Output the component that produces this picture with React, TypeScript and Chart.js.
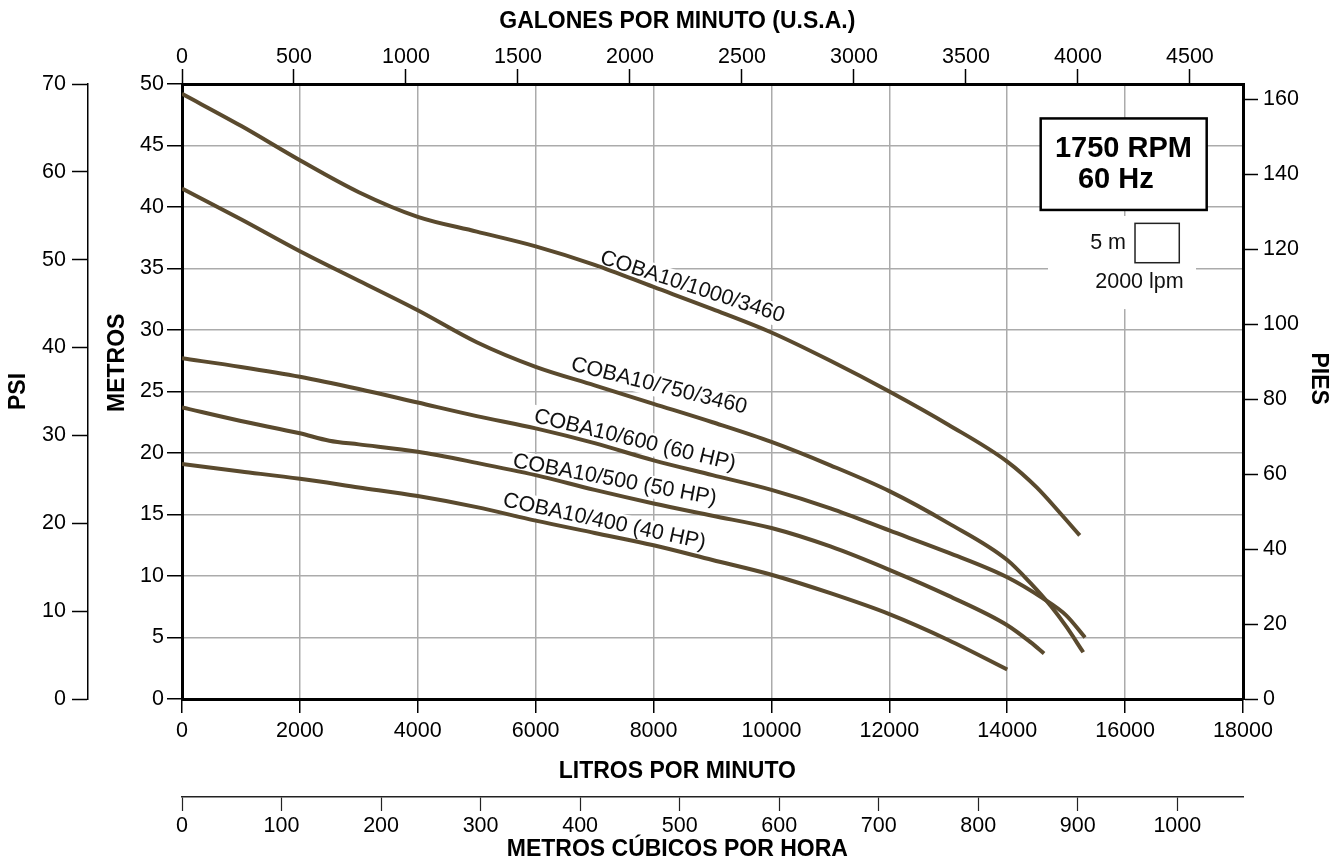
import React, { useEffect, useRef } from "react";
import { Chart, registerables } from "chart.js";

Chart.register(...registerables);

// ---------------- data ----------------
const SERIES_NAMES = [
  "COBA10/1000/3460",
  "COBA10/750/3460",
  "COBA10/600 (60 HP)",
  "COBA10/500 (50 HP)",
  "COBA10/400 (40 HP)",
];

const FLOW_1000 = [0, 1000, 2000, 3000, 4000, 5000, 6000, 7000, 8000, 9000, 10000, 11000, 12000, 13000, 14000, 14500, 14900, 15230];
const HEAD_1000 = [49.2, 46.6, 43.8, 41.2, 39.2, 38.0, 36.8, 35.3, 33.5, 31.7, 29.8, 27.5, 25.0, 22.3, 19.3, 17.2, 15.1, 13.3];

const FLOW_750 = [0, 1000, 2000, 3000, 4000, 5000, 6000, 7000, 8000, 9000, 10000, 11000, 12000, 13000, 14000, 14400, 14750, 15000, 15290];
const HEAD_750 = [41.5, 39.0, 36.4, 34.0, 31.6, 29.0, 27.0, 25.5, 24.0, 22.5, 20.9, 19.0, 16.9, 14.3, 11.3, 9.4, 7.5, 5.9, 3.8];

const FLOW_600 = [0, 1000, 2000, 3000, 4000, 5000, 6000, 7000, 8000, 9000, 10000, 11000, 12000, 13000, 14000, 14600, 15000, 15320];
const HEAD_600 = [27.7, 27.0, 26.2, 25.2, 24.1, 23.0, 22.0, 20.8, 19.4, 18.2, 17.0, 15.5, 13.7, 11.9, 9.9, 8.2, 6.8, 5.0];

const FLOW_500 = [0, 1000, 2000, 2500, 3000, 4000, 5000, 6000, 7000, 8000, 9000, 10000, 11000, 12000, 13000, 14000, 14400, 14625];
const HEAD_500 = [23.7, 22.6, 21.6, 21.0, 20.7, 20.1, 19.2, 18.2, 17.0, 15.9, 14.9, 13.9, 12.4, 10.5, 8.4, 6.0, 4.6, 3.7];

const FLOW_400 = [0, 1000, 2000, 3000, 4000, 5000, 6000, 7000, 8000, 9000, 10000, 11000, 12000, 13000, 14000];
const HEAD_400 = [19.1, 18.5, 17.9, 17.2, 16.5, 15.6, 14.5, 13.5, 12.5, 11.3, 10.1, 8.6, 6.9, 4.8, 2.4];

const FLOWS = [FLOW_1000, FLOW_750, FLOW_600, FLOW_500, FLOW_400];
const HEADS = [HEAD_1000, HEAD_750, HEAD_600, HEAD_500, HEAD_400];

// tick labels
const LPM_TICKS = [0, 2000, 4000, 6000, 8000, 10000, 12000, 14000, 16000, 18000];
const M_TICKS = [0, 5, 10, 15, 20, 25, 30, 35, 40, 45, 50];
const GPM_TICKS = [0, 500, 1000, 1500, 2000, 2500, 3000, 3500, 4000, 4500];
const M3H_TICKS = [0, 100, 200, 300, 400, 500, 600, 700, 800, 900, 1000];
const PSI_TICKS = [0, 10, 20, 30, 40, 50, 60, 70];
const FT_TICKS = [0, 20, 40, 60, 80, 100, 120, 140, 160];

// axis ranges
const LPM_MAX = 18000;
const M_MAX = 50;
const GPM_MAX = 4737;
const M3H_MAX = 1066;
const PSI_MAX = 70;
const FT_MAX = 164.04;

// texts
const TITLE_LPM = "LITROS POR MINUTO";
const TITLE_M3H = "METROS CÚBICOS POR HORA";
const TITLE_GPM = "GALONES POR MINUTO (U.S.A.)";
const TITLE_M = "METROS";
const TITLE_PSI = "PSI";
const TITLE_FT = "PIES";
const BOX_LINE1 = "1750 RPM";
const BOX_LINE2 = "60 Hz";
const SCALE_V = "5 m";
const SCALE_H = "2000 lpm";

// ---------------- layout / style ----------------
const W = 1333;
const H = 863;
const SANS = "'Liberation Sans', Arial, sans-serif";
const CURVE_COLOR = "#5a4a2e";
const GRID_COLOR = "#ababab";
const INK = "#000";
const TICK_SIZE = 21.5;

const tickFont = { family: SANS, size: TICK_SIZE, lineHeight: 1 };
const titleFont = { family: SANS, size: 23, weight: "bold" as const, lineHeight: 1 };

// label anchors (text baseline start, data coordinates) and rotation
const CURVE_LABELS = [
  { text: SERIES_NAMES[0], flow: 7074, head: 35.45, angle: 18 },
  { text: SERIES_NAMES[1], flow: 6582, head: 26.75, angle: 14 },
  { text: SERIES_NAMES[2], flow: 5955, head: 22.52, angle: 13.5 },
  { text: SERIES_NAMES[3], flow: 5598, head: 18.86, angle: 10.5 },
  { text: SERIES_NAMES[4], flow: 5429, head: 15.69, angle: 12 },
];
const LABEL_SIZE = 21.5;

const pad = (n: number) => " ".repeat(n);
const setTicks = (values: number[]) => (s: any) => {
  s.ticks = values.map((v) => ({ value: v }));
};
const plain = (v: any) => String(v);

const annotationPlugin = {
  id: "pumpAnnotations",
  beforeDatasetsDraw(chart: any) {
    const { ctx } = chart;
    const x = chart.scales.x;
    const y = chart.scales.y;
    ctx.save();
    // white area behind the scale legend
    const mx0 = x.getPixelForValue(14692);
    const mx1 = x.getPixelForValue(17203);
    const my0 = y.getPixelForValue(39.27);
    const my1 = y.getPixelForValue(31.7);
    ctx.fillStyle = "#fff";
    ctx.fillRect(mx0, my0, mx1 - mx0, my1 - my0);

    // curve labels
    CURVE_LABELS.forEach((l) => {
      const px = x.getPixelForValue(l.flow);
      const py = y.getPixelForValue(l.head);
      ctx.save();
      ctx.translate(px, py);
      ctx.rotate((l.angle * Math.PI) / 180);
      ctx.font = `${LABEL_SIZE}px ${SANS}`;
      const w = ctx.measureText(l.text).width;
      ctx.fillStyle = "#fff";
      ctx.fillRect(-2, -LABEL_SIZE * 0.8, w + 4, LABEL_SIZE * 1.05);
      ctx.fillStyle = "#111";
      ctx.textAlign = "left";
      ctx.textBaseline = "alphabetic";
      ctx.fillText(l.text, 0, 0);
      ctx.restore();
    });

    // scale legend: "5 m" [square] "2000 lpm"
    ctx.font = `${TICK_SIZE}px ${SANS}`;
    ctx.fillStyle = "#111";
    ctx.textBaseline = "middle";
    ctx.textAlign = "right";
    ctx.fillText(SCALE_V, x.getPixelForValue(16015), y.getPixelForValue(37.1));
    ctx.textAlign = "center";
    ctx.fillText(SCALE_H, x.getPixelForValue(16243), y.getPixelForValue(33.93));
    const sx0 = x.getPixelForValue(16168);
    const sx1 = x.getPixelForValue(16919);
    const sy0 = y.getPixelForValue(38.67);
    const sy1 = y.getPixelForValue(35.47);
    ctx.strokeStyle = "#222";
    ctx.lineWidth = 1.5;
    ctx.strokeRect(sx0, sy0, sx1 - sx0, sy1 - sy0);
    ctx.restore();
  },
  afterDatasetsDraw(chart: any) {
    const { ctx } = chart;
    const x = chart.scales.x;
    const y = chart.scales.y;
    ctx.save();
    const bx0 = x.getPixelForValue(14568);
    const bx1 = x.getPixelForValue(17384);
    const by0 = y.getPixelForValue(47.2);
    const by1 = y.getPixelForValue(39.76);
    ctx.fillStyle = "#fff";
    ctx.fillRect(bx0, by0, bx1 - bx0, by1 - by0);
    ctx.strokeStyle = INK;
    ctx.lineWidth = 2.5;
    ctx.strokeRect(bx0, by0, bx1 - bx0, by1 - by0);
    ctx.fillStyle = INK;
    ctx.font = `bold 29px ${SANS}`;
    ctx.textAlign = "left";
    ctx.textBaseline = "alphabetic";
    ctx.fillText(BOX_LINE1, x.getPixelForValue(14810), y.getPixelForValue(44.09));
    ctx.fillText(BOX_LINE2, x.getPixelForValue(15200), y.getPixelForValue(41.54));
    ctx.restore();
  },
};

export default function App() {
  const ref = useRef<HTMLCanvasElement>(null);

  useEffect(() => {
    if (!ref.current) return;
    const datasets = SERIES_NAMES.map((name, i) => ({
      label: name,
      data: FLOWS[i].map((f, j) => ({ x: f, y: HEADS[i][j] })),
      borderColor: CURVE_COLOR,
      backgroundColor: CURVE_COLOR,
      borderWidth: 4,
      pointRadius: 0,
      pointHoverRadius: 0,
      fill: false,
      cubicInterpolationMode: "monotone" as const,
      borderCapStyle: "butt" as const,
      xAxisID: "x",
      yAxisID: "y",
    }));

    const tickBase = { autoSkip: false, maxRotation: 0, minRotation: 0, color: INK, font: tickFont, callback: plain };

    const chart = new Chart(ref.current, {
      type: "line",
      data: { datasets },
      plugins: [annotationPlugin],
      options: {
        responsive: false,
        animation: false,
        devicePixelRatio: 1,
        layout: { padding: 0 },
        plugins: {
          legend: { display: false },
          tooltip: { enabled: false },
          title: { display: false },
        },
        scales: {
          x: {
            type: "linear",
            position: "bottom",
            weight: 0,
            min: 0,
            max: LPM_MAX,
            afterBuildTicks: setTicks(LPM_TICKS),
            ticks: { ...tickBase, padding: 7 },
            grid: { color: GRID_COLOR, lineWidth: 1.5, drawOnChartArea: true, drawTicks: true, tickLength: 14, tickColor: INK, tickWidth: 1.5 },
            border: { display: true, color: INK, width: 3 },
            title: { display: true, text: TITLE_LPM + pad(11), color: INK, font: titleFont, padding: { top: 0, bottom: 13.5 } },
            afterFit: (s: any) => { s.height = 98; },
          },
          m3h: {
            type: "linear",
            position: "bottom",
            weight: 1,
            min: 0,
            max: M3H_MAX,
            afterBuildTicks: setTicks(M3H_TICKS),
            ticks: { ...tickBase, padding: 4 },
            grid: { drawOnChartArea: false, drawTicks: true, tickLength: 14, tickColor: "#222", tickWidth: 1.2 },
            border: { display: true, color: "#222", width: 1.5 },
            title: { display: true, text: TITLE_M3H + pad(11), color: INK, font: titleFont, padding: { top: 0, bottom: 1.5 } },
            afterFit: (s: any) => { s.height = 66; },
          },
          gpm: {
            type: "linear",
            position: "top",
            min: 0,
            max: GPM_MAX,
            afterBuildTicks: setTicks(GPM_TICKS),
            ticks: { ...tickBase, padding: 1 },
            grid: { drawOnChartArea: false, drawTicks: true, tickLength: 15, tickColor: INK, tickWidth: 1.5 },
            border: { display: true, color: INK, width: 3 },
            title: { display: true, text: TITLE_GPM + pad(11), color: INK, font: titleFont, padding: { top: 10.5, bottom: 0 } },
            afterFit: (s: any) => { s.height = 84; },
          },
          y: {
            type: "linear",
            position: "left",
            weight: 0,
            min: 0,
            max: M_MAX,
            afterBuildTicks: setTicks(M_TICKS),
            ticks: { ...tickBase, padding: 3 },
            grid: { color: GRID_COLOR, lineWidth: 1.5, drawOnChartArea: true, drawTicks: true, tickLength: 15, tickColor: INK, tickWidth: 1.5 },
            border: { display: true, color: INK, width: 3 },
            title: { display: true, text: pad(9) + TITLE_M, color: INK, font: titleFont, padding: { top: 18.5, bottom: 0 } },
            afterFit: (s: any) => { s.width = 94; },
          },
          psi: {
            type: "linear",
            position: "left",
            weight: 1,
            min: 0,
            max: PSI_MAX,
            afterBuildTicks: setTicks(PSI_TICKS),
            ticks: { ...tickBase, padding: 6 },
            grid: { drawOnChartArea: false, drawTicks: true, tickLength: 16, tickColor: INK, tickWidth: 1.5 },
            border: { display: true, color: INK, width: 1.5 },
            title: { display: true, text: TITLE_PSI, color: INK, font: titleFont, padding: { top: 7, bottom: 0 } },
            afterFit: (s: any) => { s.width = 88; },
          },
          pies: {
            type: "linear",
            position: "right",
            min: 0,
            max: FT_MAX,
            afterBuildTicks: setTicks(FT_TICKS),
            ticks: { ...tickBase, padding: 5 },
            grid: { drawOnChartArea: false, drawTicks: true, tickLength: 15, tickColor: INK, tickWidth: 1.5 },
            border: { display: true, color: INK, width: 3 },
            title: { display: true, text: TITLE_FT + pad(4), color: INK, font: titleFont, padding: { top: 3.5, bottom: 0 } },
            afterFit: (s: any) => { s.width = 90; },
          },
        },
      } as any,
    });
    return () => chart.destroy();
  }, []);

  return (
    <div style={{ position: "absolute", left: 0, top: 0, width: W, height: H, background: "#fff" }}>
      <canvas ref={ref} width={W} height={H} style={{ width: W, height: H, display: "block" }} />
    </div>
  );
}
